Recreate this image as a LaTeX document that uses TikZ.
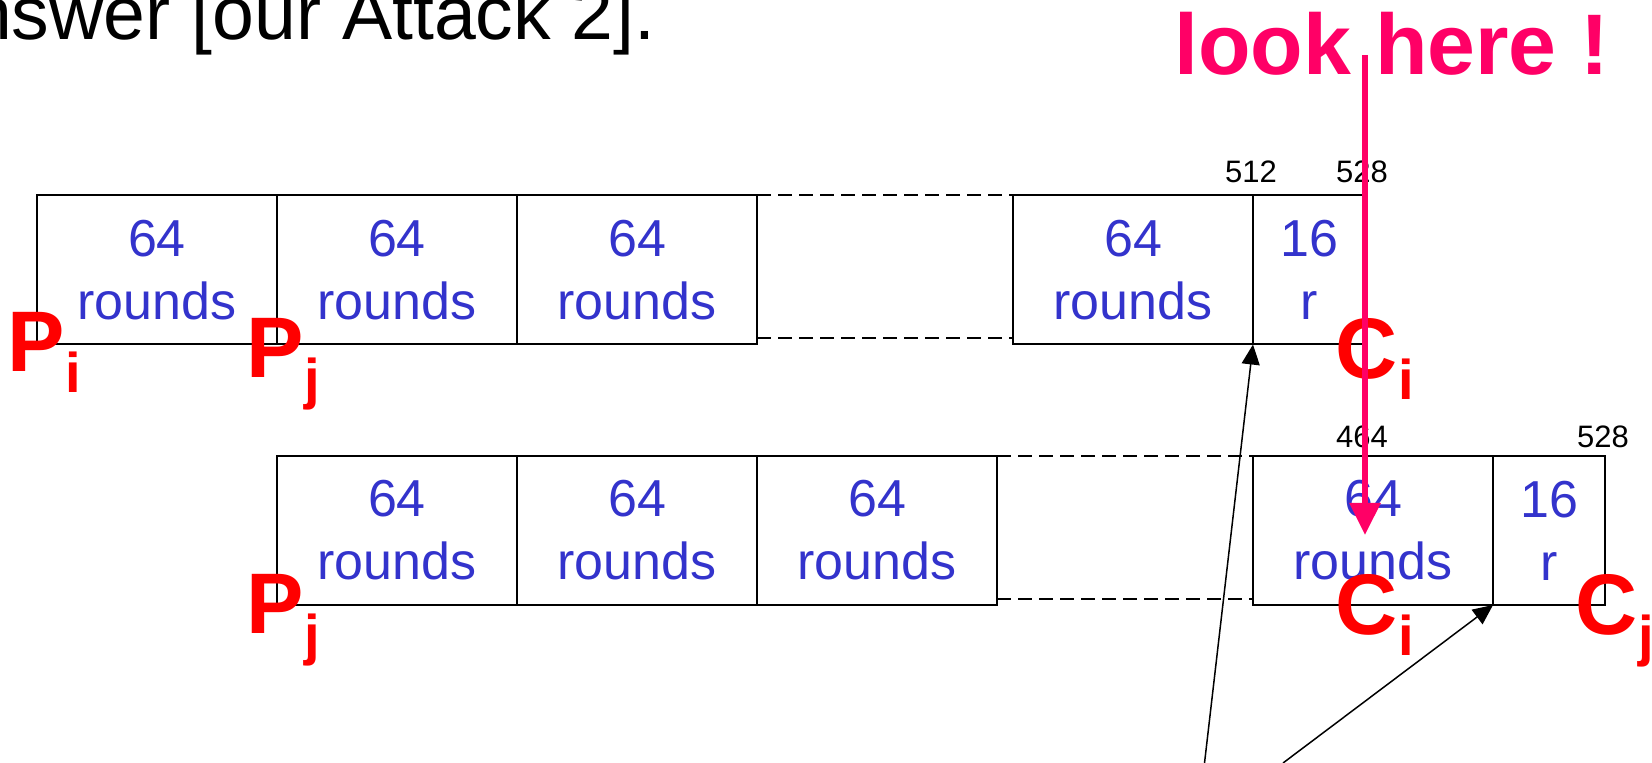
\documentclass[tikz,border=0pt]{standalone}
\usepackage{fontspec}
\setmainfont{Liberation Sans}
\usetikzlibrary{arrows.meta}
\definecolor{rndblue}{RGB}{51,51,204}
\definecolor{lookpink}{RGB}{255,0,102}
\definecolor{lblred}{RGB}{255,0,0}
\newcommand{\sublbl}[2]{\fontsize{43}{43}\selectfont\bfseries #1\raisebox{-10.5pt}{\fontsize{28}{28}\selectfont #2}}
\begin{document}
\begin{tikzpicture}[x=0.5pt, y=-0.5pt,
    blk/.style={draw, line width=1pt, rectangle, inner sep=0pt, outer sep=0pt, minimum width=120pt, minimum height=74.5pt, align=center, text=rndblue, font=\fontsize{26}{31.5}\selectfont},
    half/.style={blk, minimum width=56pt},
    idx/.style={anchor=base, inner sep=0pt, font=\fontsize{15.5}{15.5}\selectfont},
    tag/.style={anchor=base west, inner sep=0pt, text=lblred},
    gap/.style={line width=1pt, dash pattern=on 7pt off 3.5pt}]
    \useasboundingbox (0,0) rectangle (1652,763);
    % Upper row
    \node[blk] (a1) at (157,270) {64\\rounds};
    \node[blk] (a2) at (397,270) {64\\rounds};
    \node[blk] (a3) at (637,270) {64\\rounds};
    \node[blk] (a4) at (1133,270) {64\\rounds};
    \node[half] (a5) at (1309,270) {16\\r};
    \draw[gap] (a3.north east) -- (a4.north west);
    \draw[gap] ([yshift=3pt]a3.south east) -- ([yshift=3pt]a4.south west);
    \node[idx] (n512) at (1251,183) {512};
    \node[idx] (n528a) at (1362,183) {528};
    % Lower row
    \node[blk] (b1) at (397,530.5) {64\\rounds};
    \node[blk] (b2) at (637,530.5) {64\\rounds};
    \node[blk] (b3) at (877,530.5) {64\\rounds};
    \node[blk] (b4) at (1373,530.5) {64\\rounds};
    \node[half] (b5) at (1549,530.5) {16\\r};
    \draw[gap] (b3.north east) -- (b4.north west);
    \draw[gap] ([yshift=3pt]b3.south east) -- ([yshift=3pt]b4.south west);
    \node[idx] (n464) at (1362,448) {464};
    \node[idx] (n528b) at (1603,448) {528};
    % Plaintexts and ciphertexts
    \node[tag] (pi) at (7.5,372) {\sublbl{P}{i}};
    \node[tag] (pj1) at (246.5,378) {\sublbl{P}{j}};
    \node[tag] (pj2) at (246.5,633) {\sublbl{P}{j}};
    \node[tag] (ci1) at (1335.5,379) {\sublbl{C}{i}};
    \node[tag] (ci2) at (1335.5,634) {\sublbl{C}{i}};
    \node[tag] (cj) at (1575.5,634) {\sublbl{C}{j}};
    % Pointers from below
    \coordinate (s1) at (1204.5,763);
    \coordinate (s2) at (1283,763);
    \draw[line width=0.75pt, -{Triangle[length=10pt,width=9pt]}] (s1) -- (a4.south east);
    \draw[line width=0.75pt, -{Triangle[length=10pt,width=9pt]}] (s2) -- (b4.south east);
    % Heading
    \node[anchor=base east, inner sep=0pt, font=\fontsize{37.6}{37.6}\selectfont] (hdr) at (656,40) {Answer [our Attack 2].};
    \node[anchor=base west, inner sep=0pt, text=lookpink, font=\fontsize{43}{43}\selectfont\bfseries] (look) at (1174,75) {look here !};
    \coordinate (lktop) at (1365,55);
    \coordinate (lkend) at (1365,535);
    \draw[lookpink, line width=3pt, -{Triangle[length=16pt,width=15pt]}] (lktop) -- (lkend);
\end{tikzpicture}
\end{document}
